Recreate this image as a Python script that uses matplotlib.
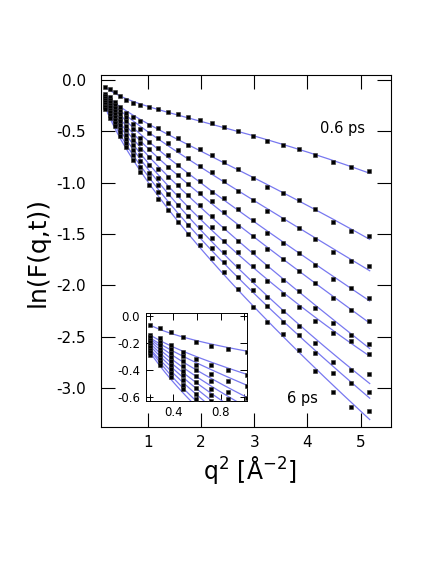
import numpy as np
import matplotlib
matplotlib.use('Agg')
import matplotlib.pyplot as plt

plt.rcParams['font.family'] = ['DejaVu Sans']
plt.rcParams['axes.unicode_minus'] = False
plt.rcParams['mathtext.default'] = 'regular'

# q^2 grid (A^-2)
q2 = [0.20, 0.29, 0.38, 0.48, 0.59, 0.72, 0.86, 1.02, 1.19, 1.37, 1.56, 1.76,
      1.98, 2.21, 2.44, 2.70, 2.97, 3.24, 3.54, 3.84, 4.15, 4.48, 4.82, 5.16]

# ln F(q,t), 0.6 ps ... 6 ps
lnF_06 = [-0.066, -0.090, -0.117, -0.158, -0.195, -0.221, -0.245, -0.262, -0.286, -0.308, -0.331, -0.360,
          -0.389, -0.422, -0.454, -0.495, -0.545, -0.591, -0.636, -0.675, -0.733, -0.795, -0.850, -0.883]
lnF_12 = [-0.140, -0.165, -0.212, -0.263, -0.316, -0.360, -0.400, -0.435, -0.470, -0.519, -0.568, -0.633,
          -0.672, -0.730, -0.795, -0.867, -0.954, -1.045, -1.104, -1.168, -1.259, -1.380, -1.467, -1.516]
lnF_18 = [-0.158, -0.190, -0.240, -0.298, -0.360, -0.425, -0.480, -0.520, -0.565, -0.617, -0.682, -0.763,
          -0.834, -0.899, -0.983, -1.078, -1.168, -1.272, -1.357, -1.438, -1.548, -1.672, -1.759, -1.814]
lnF_24 = [-0.176, -0.215, -0.270, -0.333, -0.400, -0.480, -0.560, -0.605, -0.665, -0.730, -0.828, -0.915,
          -0.983, -1.087, -1.152, -1.256, -1.363, -1.493, -1.584, -1.681, -1.800, -1.938, -2.029, -2.126]
lnF_30 = [-0.194, -0.240, -0.300, -0.368, -0.445, -0.535, -0.615, -0.670, -0.763, -0.844, -0.925, -1.016,
          -1.104, -1.175, -1.282, -1.422, -1.519, -1.649, -1.746, -1.860, -1.980, -2.120, -2.240, -2.347]
lnF_36 = [-0.212, -0.265, -0.330, -0.403, -0.490, -0.585, -0.670, -0.746, -0.867, -0.941, -1.022, -1.120,
          -1.217, -1.321, -1.444, -1.565, -1.672, -1.808, -1.948, -2.051, -2.217, -2.370, -2.483, -2.571]
lnF_42 = [-0.230, -0.290, -0.360, -0.438, -0.530, -0.630, -0.730, -0.828, -0.958, -1.039, -1.120, -1.233,
          -1.331, -1.435, -1.565, -1.672, -1.808, -1.954, -2.087, -2.207, -2.344, -2.467, -2.538, -2.665]
lnF_48 = [-0.248, -0.315, -0.390, -0.473, -0.575, -0.680, -0.790, -0.909, -1.022, -1.113, -1.217, -1.321,
          -1.428, -1.535, -1.672, -1.808, -1.948, -2.110, -2.249, -2.392, -2.564, -2.746, -2.824, -2.866]
lnF_54 = [-0.266, -0.340, -0.420, -0.508, -0.615, -0.730, -0.845, -0.958, -1.087, -1.201, -1.315, -1.412,
          -1.516, -1.633, -1.769, -1.915, -2.045, -2.201, -2.353, -2.483, -2.662, -2.850, -2.954, -3.041]
lnF_60 = [-0.285, -0.365, -0.450, -0.542, -0.655, -0.780, -0.900, -1.022, -1.159, -1.266, -1.386, -1.503,
          -1.607, -1.730, -1.866, -2.035, -2.207, -2.360, -2.477, -2.629, -2.834, -3.035, -3.188, -3.223]

curves = [lnF_06, lnF_12, lnF_18, lnF_24, lnF_30, lnF_36, lnF_42, lnF_48, lnF_54, lnF_60]

line_color = '#7878f0'

fig = plt.figure(figsize=(4.36, 5.64), dpi=100)
W, H = 436, 564


def px_axes(l, t, r, b):
    return fig.add_axes([l / W, 1 - b / H, (r - l) / W, (b - t) / H])


def draw(ax, x_fit):
    x = np.array(q2)
    for y in curves:
        # smooth fit, cubic in q
        c = np.polyfit(np.sqrt(x), np.array(y), 3)
        ax.plot(x_fit, np.polyval(c, np.sqrt(x_fit)), color=line_color, lw=0.9, zorder=2)
        ax.plot(x, y, 's', color='black', ms=3.0, mew=0.4, mec='#333333', zorder=3)


ax = px_axes(101, 75, 391, 427)
draw(ax, np.linspace(0.2, 5.17, 200))
ax.set_xlim(0.12, 5.57)
ax.set_ylim(-3.38, 0.05)
ax.set_xticks([1, 2, 3, 4, 5])
ax.set_yticks([0.0, -0.5, -1.0, -1.5, -2.0, -2.5, -3.0])
ax.set_yticklabels(['0.0', '-0.5', '-1.0', '-1.5', '-2.0', '-2.5', '-3.0'])
ax.tick_params(direction='in', length=10, width=0.8, labelsize=11,
               top=True, right=True, pad=6)
ax.tick_params(axis='y', pad=11)
for s in ax.spines.values():
    s.set_linewidth(0.8)

ax.text(4.65, -0.467, '0.6 ps', fontsize=10.5, ha='center', va='center')
ax.text(3.91, -3.106, '6 ps', fontsize=10.5, ha='center', va='center')

fig.text(250 / W, 1 - 470 / H, 'q$^{2}$ [Å$^{-2}$]', fontsize=17, ha='center', va='center')
fig.text(38 / W, 1 - 252 / H, 'ln(F(q,t))', fontsize=18, rotation=90, ha='center', va='center')

# inset: small-q region
axi = px_axes(145.7, 313.3, 246.7, 400.7)
draw(axi, np.linspace(0.2, 1.05, 100))
axi.set_xlim(0.165, 1.02)
axi.set_ylim(-0.625, 0.02)
axi.set_xticks([0.4, 0.8])
axi.set_xticks([0.2, 0.6, 1.0], minor=True)
axi.set_yticks([0.0, -0.2, -0.4, -0.6])
axi.set_yticklabels(['0.0', '-0.2', '-0.4', '-0.6'])
axi.tick_params(which='both', direction='in', length=5, width=0.7, labelsize=8.5,
                top=True, right=True, pad=4)
for s in axi.spines.values():
    s.set_linewidth(0.7)

fig.savefig('out.png', dpi=100)
